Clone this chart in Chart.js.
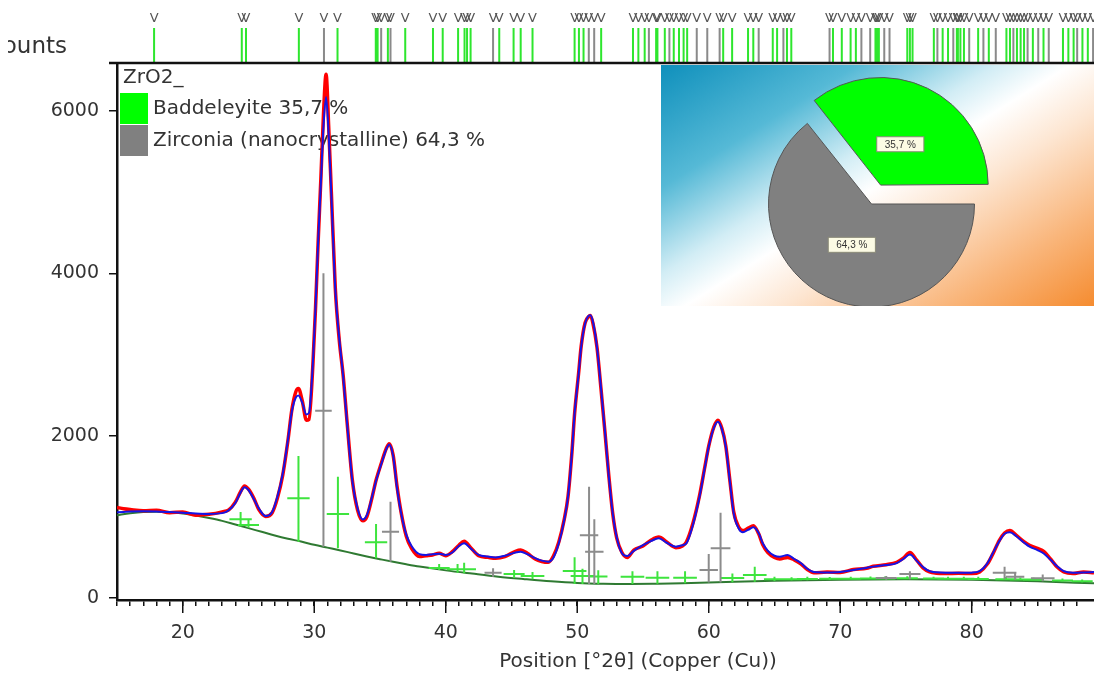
<!DOCTYPE html>
<html>
<head>
<meta charset="utf-8">
<script src="https://cdn.jsdelivr.net/npm/chart.js@4.4.1/dist/chart.umd.min.js"></script>
<style>
  body { margin: 0; background: #fff; }
  #wrap { position: relative; width: 1094px; height: 673px; overflow: hidden; }
  #main { position: absolute; left: 0; top: 0; width: 1094px; height: 673px; }
  #inset { position: absolute; left: 661px; top: 65px; width: 433px; height: 241px;
    background: linear-gradient(148deg, #0f90bc 0%, #55b9d6 24%, #d2edf5 41%, #ffffff 50%, #fde6d2 62%, #f9b57a 82%, #f58c30 100%); }
</style>
</head>
<body>
<div id="wrap">
  <div id="main"><canvas id="xrd"></canvas></div>
  <div id="inset"><canvas id="pie"></canvas></div>
</div>
<script>
const twoTheta = [15.0, 15.5, 16.0, 17.0, 18.0, 19.0, 20.0, 21.0, 22.0, 23.0, 23.5, 24.0, 24.4, 24.7, 25.0, 25.4, 25.8, 26.3, 26.8, 27.2,
  27.6, 28.0, 28.3, 28.6, 28.8, 29.1, 29.4, 29.6, 29.9, 30.1, 30.3, 30.5, 30.7, 30.9, 31.1, 31.3, 31.6, 31.9, 32.2, 32.5,
  32.9, 33.3, 33.7, 34.0, 34.4, 34.7, 35.1, 35.5, 35.7, 36.0, 36.3, 36.6, 37.0, 37.4, 38.0, 38.5, 39.0, 39.5, 40.0, 40.5,
  41.0, 41.4, 41.9, 42.5, 43.2, 43.8, 44.5, 45.3, 45.7, 46.2, 46.8, 47.3, 47.8, 48.2, 48.6, 49.0, 49.3, 49.6, 49.8, 50.1,
  50.3, 50.6, 50.9, 51.0, 51.2, 51.5, 51.8, 52.1, 52.4, 52.7, 53.0, 53.4, 53.8, 54.3, 55.0, 55.6, 56.2, 56.8, 57.5, 58.0,
  58.3, 58.8, 59.3, 59.7, 60.0, 60.4, 60.7, 61.0, 61.3, 61.6, 61.9, 62.3, 62.6, 63.0, 63.4, 63.8, 64.1, 64.5, 65.0, 65.4,
  66.0, 66.5, 67.0, 67.5, 68.0, 69.0, 70.0, 71.0, 72.0, 72.5, 73.5, 74.3, 74.8, 75.3, 75.8, 76.3, 76.8, 77.3, 78.0, 79.0,
  80.0, 80.6, 81.2, 81.6, 82.1, 82.5, 82.9, 83.4, 84.0, 84.4, 85.0, 85.5, 86.0, 86.5, 87.0, 87.7, 88.5, 89.3];
const calculated = [1055, 1060, 1065, 1068, 1065, 1058, 1050, 1040, 1035, 1045, 1080, 1170, 1300, 1363, 1330, 1220, 1100, 1010, 1060, 1250,
  1527, 1950, 2300, 2470, 2494, 2400, 2260, 2280, 2900, 3590, 4400, 5095, 5800, 6170, 5700, 4966, 3805, 3200, 2730, 2150,
  1440, 1100, 967, 1020, 1250, 1440, 1650, 1840, 1892, 1750, 1350, 1050, 780, 640, 540, 530, 540, 545, 530, 560,
  640, 675, 610, 530, 510, 500, 520, 560, 570, 540, 490, 460, 447, 500, 673, 950, 1247, 1800, 2277, 2750,
  3094, 3380, 3480, 3484, 3400, 3094, 2600, 2068, 1500, 1042, 750, 550, 516, 580, 650, 700, 735, 680, 632, 650,
  673, 900, 1247, 1600, 1863, 2100, 2171, 2080, 1863, 1450, 1042, 850, 810, 840, 870, 800, 677, 580, 520, 508,
  529, 480, 430, 360, 320, 315, 320, 345, 370, 386, 405, 430, 480, 535, 460, 380, 330, 316, 310, 310,
  312, 330, 430, 550, 700, 790, 810, 760, 680, 632, 590, 545, 470, 390, 330, 312, 315, 320];
const observed = [1115, 1100, 1090, 1075, 1080, 1050, 1060, 1020, 1030, 1060, 1085, 1180, 1310, 1380, 1340, 1230, 1085, 1005, 1050, 1230,
  1510, 1940, 2320, 2540, 2580, 2420, 2190, 2200, 2880, 3580, 4400, 5150, 5950, 6450, 5800, 5000, 3820, 3180, 2740, 2160,
  1450, 1080, 950, 1000, 1240, 1450, 1660, 1850, 1900, 1760, 1370, 1060, 760, 610, 510, 520, 530, 550, 520, 570,
  650, 700, 620, 520, 500, 490, 510, 575, 590, 550, 480, 450, 440, 520, 690, 960, 1250, 1800, 2270, 2760,
  3100, 3390, 3470, 3480, 3380, 3090, 2590, 2060, 1510, 1040, 740, 560, 500, 590, 640, 710, 750, 690, 620, 640,
  690, 920, 1260, 1610, 1870, 2110, 2190, 2090, 1870, 1460, 1060, 870, 830, 860, 890, 790, 660, 560, 500, 480,
  500, 470, 420, 350, 310, 320, 315, 350, 365, 390, 410, 440, 490, 560, 470, 370, 320, 305, 300, 305,
  300, 320, 420, 540, 710, 800, 830, 770, 690, 650, 610, 570, 480, 380, 320, 300, 320, 310];
const bgTheta = [15, 16, 17, 18, 19, 20, 21, 22, 23, 24, 25, 26, 27, 28, 29, 30, 31, 32, 33, 34, 35, 36, 37, 38,
  40, 42, 44, 46, 48, 50, 52, 54, 56, 58, 60, 62, 65, 70, 75, 80, 85, 89.3];
const bgCounts = [1019, 1045, 1060, 1062, 1055, 1040, 1015, 985, 950, 905, 860, 815, 770, 730, 695, 655, 620, 585, 548, 512, 478, 445, 415, 387,
  340, 300, 262, 232, 205, 185, 175, 172, 175, 180, 190, 200, 212, 225, 230, 225, 205, 180];

// peak crosses: position, foot, top, height of the bar, half width of the bar
const badPos  = [24.4, 25.0, 28.8, 31.8, 34.7, 39.5, 40.9, 41.4, 45.2, 46.6, 49.8, 50.4, 51.6, 54.2, 56.1, 58.2, 61.8, 63.5,
  65.0, 66.3, 67.5, 69.2, 70.8, 72.3, 73.4, 75.1, 77.1, 78.2, 79.4, 80.5, 82.6, 83.7, 84.7, 86.9, 88.4];
const badBase = [880, 865, 693, 612, 489, 345, 310, 304, 245, 230, 172, 172, 172, 172, 175, 180, 195, 200,
  210, 214, 218, 222, 225, 228, 229, 230, 229, 228, 226, 225, 220, 216, 212, 200, 190];
const badTop  = [1060, 960, 1748, 1493, 911, 420, 420, 435, 345, 320, 501, 360, 340, 330, 330, 330, 300, 386,
  260, 255, 260, 258, 262, 265, 265, 268, 262, 262, 260, 260, 258, 252, 250, 240, 228];
const badMid  = [970, 900, 1227, 1034, 686, 370, 355, 353, 295, 270, 332, 270, 265, 262, 250, 250, 245, 283,
  232, 232, 235, 236, 238, 240, 240, 242, 240, 238, 236, 235, 232, 228, 225, 215, 205];
const badHalf = [0.85, 0.8, 0.85, 0.85, 0.85, 0.8, 0.8, 0.9, 0.8, 0.9, 0.9, 0.9, 0.7, 0.9, 0.9, 0.9, 0.9, 0.9,
  0.8, 0.8, 0.8, 0.8, 0.8, 0.8, 0.8, 0.8, 0.8, 0.8, 0.8, 0.8, 0.8, 0.8, 0.8, 0.8, 0.8];
const zirPos  = [30.7, 35.8, 43.6, 50.9, 51.3, 60.0, 60.9, 73.5, 75.3, 82.5, 83.3, 85.4];
const zirBase = [631, 447, 262, 172, 172, 190, 190, 225, 230, 230, 225, 205];
const zirTop  = [4000, 1185, 366, 1370, 969, 542, 1050, 270, 330, 386, 300, 290];
const zirMid  = [2306, 816, 312, 772, 570, 345, 612, 245, 295, 312, 260, 242];
const zirHalf = [0.63, 0.65, 0.65, 0.7, 0.7, 0.7, 0.75, 0.8, 0.8, 0.9, 0.7, 0.9];

// reference pattern lines above the plot
const badRef = [17.82, 24.49, 24.81, 28.83, 31.77, 34.68, 34.82, 35.6, 36.92, 39.03, 39.77, 40.94, 41.43, 41.62, 41.89, 44.07,
  45.16, 45.70, 46.60, 49.80, 50.13, 50.48, 51.82, 54.24, 54.65, 55.13, 56.0, 56.1, 56.66, 57.34, 57.74, 58.09, 58.36,
  61.10, 61.78, 62.99, 63.39, 64.87, 65.20, 65.95, 66.28, 69.45, 70.12, 70.79, 71.19, 72.68, 72.80, 72.94, 75.1, 75.3,
  75.5, 77.12, 77.79, 78.20, 78.87, 78.95, 79.14, 79.41, 80.49, 81.30, 82.64, 82.91, 83.44, 83.72, 83.98, 84.65, 85.46,
  86.94, 87.35, 87.75, 88.42, 88.83];
const zirRef = [30.74, 35.09, 35.8, 43.60, 50.88, 51.29, 55.45, 57.01, 59.09, 59.89, 60.83, 63.80, 65.68, 69.19, 71.61,
  72.28, 73.35, 73.75, 77.39, 78.60, 79.81, 80.89, 81.83, 83.17, 84.25, 85.06, 85.86, 88.02, 89.23];

const phaseNames = ['Baddeleyite', 'Zirconia (nanocrystalline)'];
const phaseShares = [35.7, 64.3];
const phaseColors = ['#00ff00', '#808080'];
const yTicks = [0, 2000, 4000, 6000];
const xTitle = 'Position [°2θ] (Copper (Cu))';

const FONT = '"DejaVu Sans", sans-serif';
const refTop = 0.66;

function fmt(v) {
    return v.toFixed(1).replace('.', ',') + ' %';
}

function crosses(pos, base, top, mid, half) {
    let pts = [];
    for (let i = 0; i < pos.length; i++) {
        pts.push({x: pos[i], y: base[i]}, {x: pos[i], y: top[i]}, {x: pos[i], y: null});
        pts.push({x: pos[i] - half[i], y: mid[i]}, {x: pos[i] + half[i], y: mid[i]}, {x: pos[i] + half[i], y: null});
    }
    return pts;
}

function refLines(pos) {
    let pts = [];
    for (let p of pos) pts.push({x: p, y: 0}, {x: p, y: refTop}, {x: p, y: null});
    return pts;
}

function xy(xs, ys) {
    return xs.map((x, i) => ({x: x, y: ys[i]}));
}

const decor = {
    id: 'decor',
    beforeDatasetsDraw(chart) {
        const ctx = chart.ctx;
        const y = chart.scales.y;
        const x0 = chart.chartArea.left;
        ctx.save();
        ctx.font = '20px ' + FONT;
        ctx.textBaseline = 'middle';
        ctx.fillStyle = '#333';
        ctx.fillText('ZrO2_', x0 + 6, y.top + 15);
        phaseNames.forEach((n, i) => {
            const top = y.top + 30 + i * 32;
            ctx.fillStyle = phaseColors[i];
            ctx.fillRect(x0 + 3, top, 28, 31);
            ctx.fillStyle = '#333';
            ctx.fillText(n + ' ' + fmt(phaseShares[i]), x0 + 36, top + 16);
        });
        ctx.restore();
    },
    afterDatasetsDraw(chart) {
        const ctx = chart.ctx;
        const x = chart.scales.x, y = chart.scales.y, yr = chart.scales.yRef;
        ctx.save();
        // frame top line
        ctx.strokeStyle = '#111';
        ctx.lineWidth = 2.5;
        ctx.beginPath();
        ctx.moveTo(x.left - 8, y.top);
        ctx.lineTo(x.right, y.top);
        ctx.stroke();
        // major x ticks
        ctx.lineWidth = 1.5;
        for (let t of x.ticks) {
            if (t.value % 10 !== 0) continue;
            const px = x.getPixelForValue(t.value);
            ctx.beginPath();
            ctx.moveTo(px, x.top);
            ctx.lineTo(px, x.top + 13);
            ctx.stroke();
        }
        // x axis title, sits right of centre in the original
        ctx.font = '20px ' + FONT;
        ctx.fillStyle = '#333';
        ctx.textAlign = 'center';
        ctx.textBaseline = 'middle';
        ctx.fillText(xTitle, 638, 662);
        // letters over reference lines
        ctx.font = '13px ' + FONT;
        ctx.fillStyle = '#555';
        for (let p of badRef.concat(zirRef)) {
            ctx.fillText('V', x.getPixelForValue(p), yr.getPixelForValue(0.83));
        }
        // cut axis caption
        ctx.beginPath();
        ctx.rect(8, 0, 120, 100);
        ctx.clip();
        ctx.font = '23px ' + FONT;
        ctx.fillStyle = '#333';
        ctx.textAlign = 'right';
        ctx.fillText('Counts', 67, 47);
        ctx.restore();
    }
};

new Chart(document.getElementById('xrd'), {
    type: 'line',
    data: {
        datasets: [
            {label: 'Calculated', data: xy(twoTheta, calculated), borderColor: '#1414e6', borderWidth: 2,
                pointRadius: 0, cubicInterpolationMode: 'monotone', order: 0},
            {label: 'Observed', data: xy(twoTheta, observed), borderColor: '#ff0000', borderWidth: 3.5,
                pointRadius: 0, cubicInterpolationMode: 'monotone', order: 1},
            {label: 'Zirconia peaks', data: crosses(zirPos, zirBase, zirTop, zirMid, zirHalf), borderColor: '#8c8c8c',
                borderWidth: 2, pointRadius: 0, order: 2},
            {label: 'Baddeleyite peaks', data: crosses(badPos, badBase, badTop, badMid, badHalf), borderColor: '#3ee43e',
                borderWidth: 2, pointRadius: 0, order: 3},
            {label: 'Background', data: xy(bgTheta, bgCounts), borderColor: '#2f7a32', borderWidth: 2,
                pointRadius: 0, cubicInterpolationMode: 'monotone', order: 4},
            {label: 'Baddeleyite ref', data: refLines(badRef), yAxisID: 'yRef', borderColor: '#2ee62e',
                borderWidth: 2, pointRadius: 0, order: 5},
            {label: 'Zirconia ref', data: refLines(zirRef), yAxisID: 'yRef', borderColor: '#8a8a8a',
                borderWidth: 2, pointRadius: 0, order: 5}
        ]
    },
    options: {
        responsive: true,
        maintainAspectRatio: false,
        animation: false,
        layout: {padding: {top: 10, left: 0, right: 0, bottom: 0}},
        plugins: {legend: {display: false}, tooltip: {enabled: false}},
        scales: {
            x: {
                type: 'linear', min: 15, max: 89.3, offset: false,
                afterBuildTicks: s => { s.ticks = s.ticks.filter(t => Number.isInteger(t.value)); },
                afterFit: s => { s.height = 73; s.paddingLeft = 0; s.paddingRight = 0; },
                ticks: {stepSize: 1, autoSkip: false, maxRotation: 0, padding: 16, color: '#333',
                    font: {size: 19, family: FONT}, callback: v => v % 10 === 0 ? String(v) : ''},
                grid: {display: true, drawOnChartArea: false, tickLength: 6, color: '#111', lineWidth: 1.5},
                border: {display: true, color: '#111', width: 2.5}
            },
            y: {
                type: 'linear', position: 'left', stack: 'v', stackWeight: 537, min: -25, max: 6590,
                afterBuildTicks: s => { s.ticks = yTicks.map(v => ({value: v})); },
                afterFit: s => { s.width = 117; s.paddingTop = 0; s.paddingBottom = 0; },
                ticks: {padding: 10, color: '#333', font: {size: 19, family: FONT}, callback: v => String(v)},
                grid: {display: true, drawOnChartArea: false, tickLength: 8, color: '#111', lineWidth: 1.5},
                border: {display: true, color: '#111', width: 2.5}
            },
            yRef: {
                type: 'linear', position: 'left', stack: 'v', stackWeight: 53, min: 0, max: 1,
                afterFit: s => { s.width = 117; s.paddingTop = 0; s.paddingBottom = 0; },
                ticks: {display: false},
                grid: {display: false},
                border: {display: false}
            }
        }
    },
    plugins: [decor]
});

const pieOffset = 84;

const pieLabels = {
    id: 'pieLabels',
    afterDatasetsDraw(chart) {
        const ctx = chart.ctx;
        ctx.save();
        ctx.font = '10px "Liberation Sans", sans-serif';
        ctx.textAlign = 'center';
        ctx.textBaseline = 'middle';
        const ds = chart.data.datasets[0];
        chart.getDatasetMeta(0).data.forEach((arc, i) => {
            const mid = (arc.startAngle + arc.endAngle) / 2;
            const r = ds.offset[i] / 4 + arc.outerRadius * 0.44;
            const px = arc.x + Math.cos(mid) * r, py = arc.y + Math.sin(mid) * r;
            const txt = fmt(phaseShares[i]);
            const w = ctx.measureText(txt).width + 16, h = 15;
            ctx.fillStyle = '#fcfbe4';
            ctx.strokeStyle = '#8a8a78';
            ctx.lineWidth = 1;
            ctx.fillRect(px - w / 2, py - h / 2, w, h);
            ctx.strokeRect(px - w / 2, py - h / 2, w, h);
            ctx.fillStyle = '#333';
            ctx.fillText(txt, px, py + 0.5);
        });
        ctx.restore();
    }
};

new Chart(document.getElementById('pie'), {
    type: 'pie',
    data: {
        labels: phaseNames,
        datasets: [{data: phaseShares, backgroundColor: phaseColors, borderColor: '#555', borderWidth: 1, offset: [pieOffset, 0]}]
    },
    options: {
        responsive: true,
        maintainAspectRatio: false,
        animation: false,
        rotation: 90 - phaseShares[0] * 3.6,
        radius: 103,
        layout: {padding: {left: 0, right: 12, top: 37, bottom: 0}},
        plugins: {legend: {display: false}, tooltip: {enabled: false}}
    },
    plugins: [pieLabels]
});
</script>
</body>
</html>
